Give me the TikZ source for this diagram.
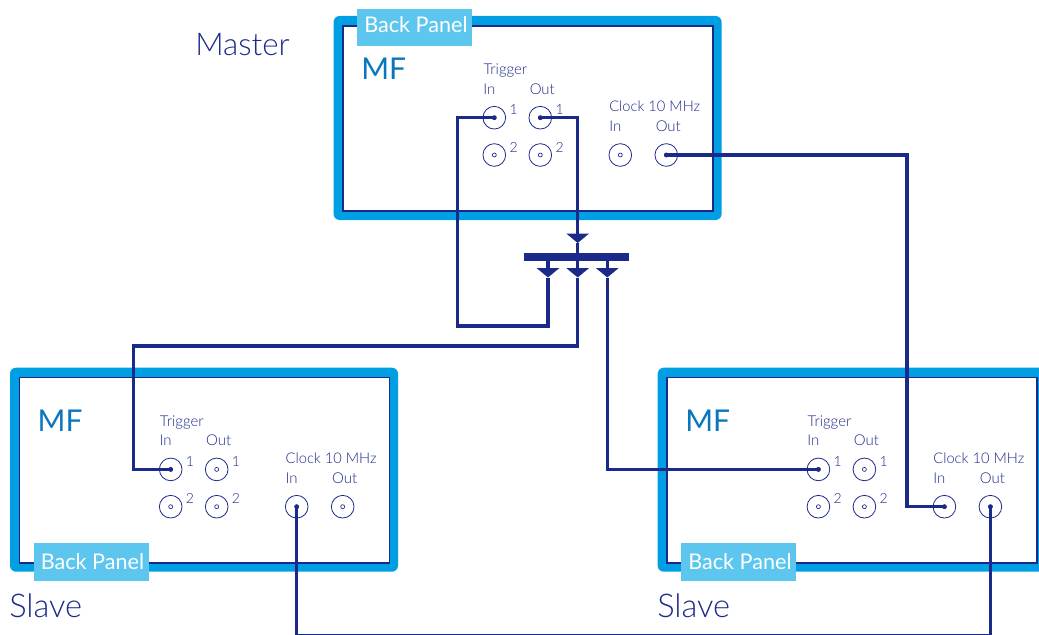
\documentclass[tikz,border=0pt]{standalone}
\usepackage{fontspec}
\setmainfont{Lato Light}
\newfontfamily\latoreg{Lato}
\usetikzlibrary{arrows.meta,calc}
\definecolor{navy}{HTML}{1B2A8A}
\definecolor{band}{HTML}{009FE3}
\definecolor{tag}{HTML}{5CC6EE}
\definecolor{mfblue}{HTML}{0A77BD}
\newcommand{\pxfont}[1]{\fontsize{#1}{#1}\selectfont}
\tikzset{
  x=0.75pt,y=-0.75pt,
  outerbox/.style={fill=band,draw=none,rounded corners=4.5pt,inner sep=0pt,minimum width=291pt,minimum height=153pt},
  innerbox/.style={fill=white,draw=navy,line width=1.1pt,inner sep=0pt,minimum width=277.5pt,minimum height=139pt},
  conn/.style={circle,draw=navy,line width=.6pt,fill=white,inner sep=0pt,minimum size=17pt},
  hole/.style={circle,draw=navy,line width=.5pt,fill=white,inner sep=0pt,minimum size=3pt},
  small/.style={inner sep=0pt,anchor=base west,text=navy,font=\pxfont{11.2}},
  clocktext/.style={small,font=\pxfont{11}},
  tiny/.style={inner sep=0pt,anchor=base west,text=navy,font=\pxfont{10.5}},
  mf/.style={inner sep=0pt,anchor=base west,text=mfblue,font=\latoreg\pxfont{22.5}},
  role/.style={inner sep=0pt,anchor=base west,text=navy,font=\pxfont{23.5}},
  slaverole/.style={role,font=\pxfont{24.5}},
  tagbox/.style={fill=tag,draw=none,inner sep=0pt,minimum width=86.25pt,minimum height=28pt},
  tagtext/.style={text=white,font=\latoreg\pxfont{16.2},inner sep=0pt},
  wire/.style={draw=navy,line width=2.6pt,line cap=butt,line join=miter},
  tipwire/.style={wire,-{Triangle[width=16.5pt,length=7pt]}},
  endspot/.style={circle,fill=navy,inner sep=0pt,minimum size=3.4pt},
}
% #1 prefix, #2 dx, #3 dy
\newcommand{\devicebody}[3]{%
\begin{scope}[shift={(#2,#3)},name prefix=#1-]
  \node[outerbox] (outer) at (527.6,118) {};
  \node[innerbox] (inner) at (527.9,118.5) {};
  \node[mf] (mf) at (361,79.5) {MF};
  \node[small] (trig) at (483.3,74.5) {Trigger};
  \node[small] (tin) at (483,94) {In};
  \node[small] (tout) at (529.5,94) {Out};
  \node[clocktext] (clk) at (609,111.7) {Clock 10 MHz};
  \node[small] (cin) at (609,132) {In};
  \node[small] (cout) at (655.5,132) {Out};
  \foreach \n/\xx/\yy/\t in {a1/494.3/117.7/1,b1/540.3/117.7/1,a2/494.3/155/2,b2/540.3/155/2}{
    \node[conn] (\n) at (\xx,\yy) {};
    \node[hole] (h\n) at (\xx,\yy) {};
    \node[tiny] (l\n) at ($(\xx,\yy)+(15,-3)$) {\t};
  }
  \foreach \n/\xx in {c/620.3,d/666.3}{
    \node[conn] (\n) at (\xx,155) {};
    \node[hole] (h\n) at (\xx,155) {};
  }
\end{scope}}
\begin{document}
\begin{tikzpicture}
\useasboundingbox (0,0) rectangle (1039,635);
\clip (0,0) rectangle (1039,635);
\devicebody{m}{0}{0}
\devicebody{l}{-323.6}{351.7}
\devicebody{r}{324.1}{351.7}
% back panel tags
\node[tagbox] (mtag) at (414.5,27.5) {};
\node[tagtext] (mtagt) at (416,25) {Back Panel};
\node[tagbox] (ltag) at (91.5,562) {};
\node[tagbox] (rtag) at (738.5,562) {};
\node[tagtext] (ltagt) at (92.5,562) {Back Panel};
\node[tagtext] (rtagt) at (740,562) {Back Panel};
% roles
\node[role] (master) at (195,55.5) {Master};
\node[slaverole] (lslave) at (9,617) {Slave};
\node[slaverole] (rslave) at (657,617) {Slave};
% splitter bar
\node[fill=navy,inner sep=0pt,minimum width=79pt,minimum height=5.5pt] (bar) at (576.7,257) {};
\coordinate (tipT) at (577.7,243);
\coordinate (tipA) at (548,277.5);
\coordinate (tipB) at (577.7,277.5);
\coordinate (tipC) at (607.3,277.5);
\coordinate (turnA) at (457.3,326);
\coordinate (wB) at (133.5,346);
\coordinate (turnD) at (907,506.7);
\coordinate (bottom) at (0,636.2);
% wires
\draw[tipwire] (m-b1.center) -| (tipT);
\draw[wire] (tipT) -- (tipT |- bar.north);
\draw[tipwire] (tipA |- bar.south) -- (tipA);
\draw[tipwire] (tipB |- bar.south) -- (tipB);
\draw[tipwire] (tipC |- bar.south) -- (tipC);
\draw[wire] (m-a1.center) -| (turnA) -| (tipA);
\draw[wire] (tipB) |- (wB) |- (l-a1.center);
\draw[wire] (tipC) |- (r-a1.center);
\draw[wire] (m-d.center) -| (turnD) -- (r-c.center);
\draw[wire] (l-c.center) |- (r-d.center |- bottom) -- (r-d.center);
\foreach \s in {m-a1,m-b1,m-d,l-a1,l-c,r-a1,r-c,r-d}{\node[endspot] at (\s.center) {};}
\end{tikzpicture}
\end{document}
